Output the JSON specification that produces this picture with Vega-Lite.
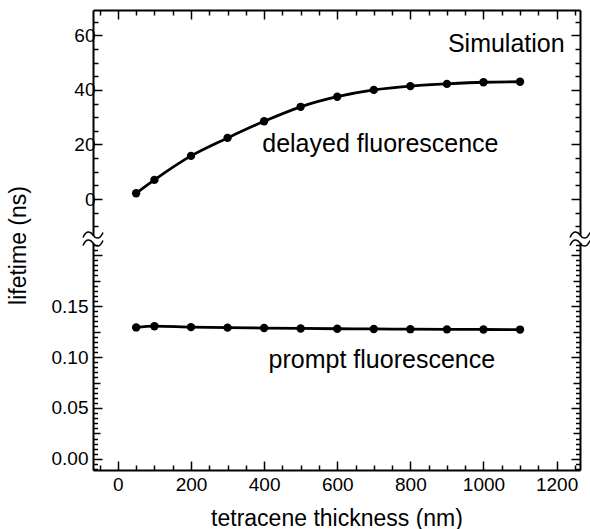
{
  "$schema": "https://vega.github.io/schema/vega-lite/v6.json",
  "padding": {"left": 6, "top": 9, "right": 4, "bottom": 2},
  "background": "white",
  "config": {
    "view": {"stroke": null},
    "axis": {
      "domainColor": "black", "domainWidth": 2,
      "tickColor": "black", "tickWidth": 1.5,
      "labelFont": "Liberation Sans", "labelFontSize": 19, "labelColor": "black",
      "titleFont": "Liberation Sans", "titleFontSize": 23, "titleFontWeight": "normal", "titleColor": "black",
      "grid": false, "labelOverlap": false, "labelFlush": false
    },
    "text": {"font": "Liberation Sans", "fontSize": 25, "color": "black"}
  },
  "data": {"values": [
    {"series": "delayed", "thickness": 50, "lifetime": 2.1},
    {"series": "delayed", "thickness": 100, "lifetime": 7.0},
    {"series": "delayed", "thickness": 200, "lifetime": 15.8},
    {"series": "delayed", "thickness": 300, "lifetime": 22.4},
    {"series": "delayed", "thickness": 400, "lifetime": 28.5},
    {"series": "delayed", "thickness": 500, "lifetime": 33.8},
    {"series": "delayed", "thickness": 600, "lifetime": 37.5},
    {"series": "delayed", "thickness": 700, "lifetime": 40.0},
    {"series": "delayed", "thickness": 800, "lifetime": 41.4},
    {"series": "delayed", "thickness": 900, "lifetime": 42.2},
    {"series": "delayed", "thickness": 1000, "lifetime": 42.8},
    {"series": "delayed", "thickness": 1100, "lifetime": 43.0},
    {"series": "prompt", "thickness": 50, "lifetime": 0.1290},
    {"series": "prompt", "thickness": 100, "lifetime": 0.1302},
    {"series": "prompt", "thickness": 200, "lifetime": 0.1293},
    {"series": "prompt", "thickness": 300, "lifetime": 0.1288},
    {"series": "prompt", "thickness": 400, "lifetime": 0.1284},
    {"series": "prompt", "thickness": 500, "lifetime": 0.1280},
    {"series": "prompt", "thickness": 600, "lifetime": 0.1277},
    {"series": "prompt", "thickness": 700, "lifetime": 0.1275},
    {"series": "prompt", "thickness": 800, "lifetime": 0.1273},
    {"series": "prompt", "thickness": 900, "lifetime": 0.1271},
    {"series": "prompt", "thickness": 1000, "lifetime": 0.1270},
    {"series": "prompt", "thickness": 1100, "lifetime": 0.1269}
  ]},
  "spacing": 8,
  "bounds": "flush",
  "vconcat": [
    {
      "width": 487, "height": 225,
      "transform": [{"filter": "datum.series === 'delayed'"}],
      "resolve": {"axis": {"x": "independent", "y": "independent"}},
      "layer": [
        {
          "mark": {"type": "line", "color": "black", "strokeWidth": 2.8, "interpolate": "monotone"},
          "encoding": {
            "x": {"field": "thickness", "type": "quantitative",
              "scale": {"domain": [-68, 1264], "nice": false, "zero": false},
              "axis": {"orient": "top", "labels": false, "title": null,
                "values": [-50,0,50,100,150,200,250,300,350,400,450,500,550,600,650,700,750,800,850,900,950,1000,1050,1100,1150,1200,1250],
                "tickSize": {"condition": [{"test": "datum.value % 200 === 0", "value": -9}], "value": -5}}},
            "y": {"field": "lifetime", "type": "quantitative",
              "scale": {"domain": [-13.2, 69.3], "nice": false, "zero": false},
              "axis": {"orient": "left", "title": null,
                "values": [-10,-5,0,5,10,15,20,25,30,35,40,45,50,55,60,65],
                "format": "d",
                "labelExpr": "abs(round(datum.value)) % 20 === 0 && datum.value >= 0 ? datum.label : ''",
                "labelPadding": 7,
                "tickSize": {"condition": [{"test": "abs(round(datum.value)) % 20 === 0", "value": -9}, {"test": "abs(round(datum.value)) % 10 === 0", "value": -5}], "value": -5}}}
          }
        },
        {
          "mark": {"type": "point", "filled": true, "color": "black", "size": 70, "opacity": 1},
          "encoding": {
            "x": {"field": "thickness", "type": "quantitative", "axis": null},
            "y": {"field": "lifetime", "type": "quantitative",
              "axis": {"orient": "right", "title": null, "labels": false,
                "values": [-10,-5,0,5,10,15,20,25,30,35,40,45,50,55,60,65],
                "tickSize": {"condition": [{"test": "abs(round(datum.value)) % 20 === 0", "value": -9}, {"test": "abs(round(datum.value)) % 10 === 0", "value": -5}], "value": -5}}}
          }
        },
        {
          "data": {"values": [{"label": "Simulation"}]},
          "mark": {"type": "text", "align": "right", "baseline": "middle"},
          "encoding": {
            "x": {"datum": 1222, "type": "quantitative", "axis": null},
            "y": {"datum": 57.0, "type": "quantitative", "axis": null},
            "text": {"field": "label"}
          }
        },
        {
          "data": {"values": [{"label": "delayed fluorescence"}]},
          "mark": {"type": "text", "align": "center", "baseline": "middle"},
          "encoding": {
            "x": {"datum": 718, "type": "quantitative", "axis": null},
            "y": {"datum": 20.0, "type": "quantitative", "axis": null},
            "text": {"field": "label"}
          }
        },
        {
          "data": {"values": [{"edge": -68}, {"edge": 1264}]},
          "mark": {"type": "point", "shape": "M-1,0.25C-0.7,-0.45,-0.3,-0.45,0,0C0.3,0.45,0.7,0.45,1,-0.25", "filled": false, "stroke": "black", "strokeWidth": 1.5, "size": 400, "opacity": 1},
          "encoding": {
            "x": {"field": "edge", "type": "quantitative", "axis": null},
            "y": {"datum": -13.2, "type": "quantitative", "axis": null}
          }
        }
      ]
    },
    {
      "width": 487, "height": 227,
      "transform": [{"filter": "datum.series === 'prompt'"}],
      "resolve": {"axis": {"x": "independent", "y": "independent"}},
      "layer": [
        {
          "mark": {"type": "line", "color": "black", "strokeWidth": 2.8, "interpolate": "monotone"},
          "encoding": {
            "x": {"field": "thickness", "type": "quantitative",
              "scale": {"domain": [-68, 1264], "nice": false, "zero": false},
              "axis": {"orient": "bottom", "title": "tetracene thickness (nm)",
                "values": [-50,0,50,100,150,200,250,300,350,400,450,500,550,600,650,700,750,800,850,900,950,1000,1050,1100,1150,1200,1250],
                "format": "d",
                "labelExpr": "datum.value % 200 === 0 ? datum.label : ''",
                "labelPadding": 14, "titlePadding": 9,
                "tickSize": {"condition": [{"test": "datum.value % 200 === 0", "value": -9}], "value": -5}}},
            "y": {"field": "lifetime", "type": "quantitative",
              "scale": {"domain": [-0.0108, 0.2118], "nice": false, "zero": false},
              "axis": {"orient": "left", "title": "lifetime (ns)", "titleX": -75, "titleY": 2, "titleAlign": "center", "titleBaseline": "middle", "titleAngle": -90,
                "values": [-0.01,-0.005,0,0.005,0.01,0.015,0.02,0.025,0.03,0.035,0.04,0.045,0.05,0.055,0.06,0.065,0.07,0.075,0.08,0.085,0.09,0.095,0.1,0.105,0.11,0.115,0.12,0.125,0.13,0.135,0.14,0.145,0.15,0.155,0.16,0.165,0.17,0.175,0.18,0.185,0.19,0.195,0.2,0.205,0.21],
                "format": ".2f",
                "labelExpr": "abs(round(datum.value*1000)) % 50 === 0 && datum.value > -0.001 && datum.value < 0.16 ? datum.label : ''",
                "labelPadding": 14,
                "tickSize": {"condition": [{"test": "abs(round(datum.value*1000)) % 50 === 0", "value": -9}, {"test": "abs(round(datum.value*1000)) % 25 === 0", "value": -7}], "value": -4.5}}}
          }
        },
        {
          "mark": {"type": "point", "filled": true, "color": "black", "size": 70, "opacity": 1},
          "encoding": {
            "x": {"field": "thickness", "type": "quantitative", "axis": null},
            "y": {"field": "lifetime", "type": "quantitative",
              "axis": {"orient": "right", "title": null, "labels": false,
                "values": [-0.01,-0.005,0,0.005,0.01,0.015,0.02,0.025,0.03,0.035,0.04,0.045,0.05,0.055,0.06,0.065,0.07,0.075,0.08,0.085,0.09,0.095,0.1,0.105,0.11,0.115,0.12,0.125,0.13,0.135,0.14,0.145,0.15,0.155,0.16,0.165,0.17,0.175,0.18,0.185,0.19,0.195,0.2,0.205,0.21],
                "tickSize": {"condition": [{"test": "abs(round(datum.value*1000)) % 50 === 0", "value": -9}, {"test": "abs(round(datum.value*1000)) % 25 === 0", "value": -7}], "value": -4.5}}}
          }
        },
        {
          "data": {"values": [{"label": "prompt fluorescence"}]},
          "mark": {"type": "text", "align": "center", "baseline": "middle"},
          "encoding": {
            "x": {"datum": 722, "type": "quantitative", "axis": null},
            "y": {"datum": 0.097, "type": "quantitative", "axis": null},
            "text": {"field": "label"}
          }
        },
        {
          "data": {"values": [{"edge": -68}, {"edge": 1264}]},
          "mark": {"type": "point", "shape": "M-1,0.25C-0.7,-0.45,-0.3,-0.45,0,0C0.3,0.45,0.7,0.45,1,-0.25", "filled": false, "stroke": "black", "strokeWidth": 1.5, "size": 400, "opacity": 1},
          "encoding": {
            "x": {"field": "edge", "type": "quantitative", "axis": null},
            "y": {"datum": 0.2118, "type": "quantitative", "axis": null}
          }
        }
      ]
    }
  ]
}
